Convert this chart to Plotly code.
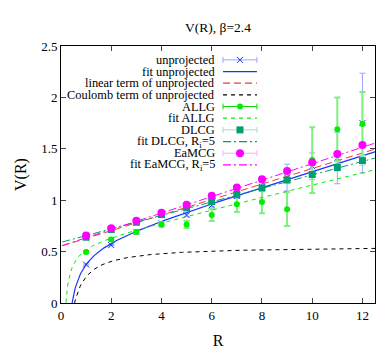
import numpy as np
import plotly.graph_objects as go

# lattice distances and measured potentials
R = [1, 2, 3, 4, 5, 6, 7, 8, 9, 10, 11, 12]

unproj_V = [0.374, 0.563, 0.69, 0.776, 0.855, 0.95, 1.04, 1.13, 1.22, 1.33, 1.41, 1.75]
unproj_err = [0.005, 0.006, 0.008, 0.01, 0.012, 0.015, 0.02, 0.04, 0.13, 0.13, 0.25, 0.485]

allg_V = [0.496, 0.618, 0.691, 0.764, 0.764, 0.856, 0.96, 0.983, 0.913, 1.39, 1.69, 1.742]
allg_err = [0.012, 0.015, 0.018, 0.022, 0.035, 0.058, 0.075, 0.11, 0.165, 0.32, 0.31, 0.31]

dlcg_V = [0.64, 0.715, 0.785, 0.86, 0.925, 0.987, 1.056, 1.12, 1.196, 1.25, 1.318, 1.385]
dlcg_err = [0.004, 0.005, 0.006, 0.008, 0.01, 0.012, 0.015, 0.018, 0.022, 0.028, 0.035, 0.045]

eamcg_V = [0.657, 0.728, 0.80, 0.877, 0.955, 1.044, 1.123, 1.203, 1.283, 1.367, 1.449, 1.537]
eamcg_err = [0.003, 0.004, 0.005, 0.006, 0.007, 0.008, 0.01, 0.012, 0.014, 0.016, 0.018, 0.02]

# fit parameters: V0, sigma, alpha  (V = V0 + sigma*R - alpha/R)
fit_unproj = [0.56, 0.0745, 0.26]
linear_unproj = [0.553, 0.0755, 0.0]
coulomb_unproj = [0.555, 0.0, 0.30]
fit_allg = [0.568, 0.059, 0.11]
fit_dlcg = [0.59, 0.0656, 0.0]
fit_eamcg = [0.555, 0.08, 0.0]

xticks = [0, 2, 4, 6, 8, 10, 12]
yticks = [0, 0.5, 1, 1.5, 2, 2.5]
ytick_labels = ["0", "0.5", "1", "1.5", "2", "2.5"]

FONT = "Liberation Serif"
BLUE, RED, GREEN, TEAL, MAG = "#1a33ff", "#e8402a", "#00ee00", "#009e73", "#ff00ff"

r_grid = np.linspace(0.05, 12.5, 300)


def model(p):
    v0, s, a = p
    return v0 + s * r_grid - a / r_grid


def points(vals, errs, color, errcolor, symbol, size, ew=1):
    return go.Scatter(x=R, y=vals, mode="markers",
                      marker=dict(symbol=symbol, size=size, color=color,
                                  line=dict(width=1 if symbol == "x-thin" else 0, color=color)),
                      error_y=dict(type="data", array=errs, color=errcolor, thickness=ew, width=3),
                      showlegend=False)


def curve(p, color, dash, width=1):
    return go.Scatter(x=r_grid, y=model(p), mode="lines",
                      line=dict(color=color, dash=dash, width=width), showlegend=False)


fig = go.Figure()
fig.add_trace(points(unproj_V, unproj_err, BLUE, "#9aa6ff", "x-thin", 6))
fig.add_trace(curve(fit_unproj, BLUE, "solid", 1.2))
fig.add_trace(curve(linear_unproj, RED, "7px,4px"))
fig.add_trace(curve(coulomb_unproj, "black", "4px,4px"))
fig.add_trace(points(allg_V, allg_err, GREEN, "#7ef07e", "circle", 6, 2))
fig.add_trace(curve(fit_allg, GREEN, "4px,4px"))
fig.add_trace(points(dlcg_V, dlcg_err, TEAL, "#a8dcc8", "square", 7))
fig.add_trace(curve(fit_dlcg, TEAL, "8px,3px,2px,3px"))
fig.add_trace(points(eamcg_V, eamcg_err, MAG, "#ffaaff", "circle", 8))
fig.add_trace(curve(fit_eamcg, MAG, "8px,3px,2px,3px"))

# gnuplot style key: labels right aligned, samples to their right
key = [
    ("unprojected", "pts", BLUE, "#9aa6ff", "x-thin", 6, None),
    ("fit unprojected", "line", BLUE, None, None, None, "solid"),
    ("linear term of unprojected", "line", RED, None, None, None, "7px,4px"),
    ("Coulomb term of unprojected", "line", "black", None, None, None, "4px,4px"),
    ("ALLG", "pts", GREEN, "#00dd00", "circle", 6, None),
    ("fit ALLG", "line", GREEN, None, None, None, "4px,4px"),
    ("DLCG", "pts", TEAL, "#a8dcc8", "square", 7, None),
    ("fit DLCG, R<sub>i</sub>=5", "line", TEAL, None, None, None, "8px,3px,2px,3px"),
    ("EaMCG", "pts", MAG, "#ffaaff", "circle", 8, None),
    ("fit EaMCG, R<sub>i</sub>=5", "line", MAG, None, None, None, "8px,3px,2px,3px"),
]
x0, x1 = 0.516, 0.624
for i, (label, kind, col, ecol, sym, size, dash) in enumerate(key):
    yk = 0.946 - i * 0.0454
    fig.add_annotation(x=0.493, y=yk, xref="paper", yref="paper", text=label,
                       showarrow=False, xanchor="right", yanchor="middle", borderpad=0,
                       font=dict(family=FONT, size=12.4, color="black"))
    if kind == "line":
        fig.add_trace(go.Scatter(x=[x0, x1], y=[yk, yk], xaxis="x2", yaxis="y2", mode="lines",
                                 line=dict(color=col, dash=dash, width=1.2), showlegend=False))
    else:
        fig.add_trace(go.Scatter(x=[(x0 + x1) / 2], y=[yk], xaxis="x2", yaxis="y2", mode="markers",
                                 marker=dict(symbol=sym, size=size, color=col,
                                             line=dict(width=1 if sym == "x-thin" else 0, color=col)),
                                 error_x=dict(type="constant", value=(x1 - x0) / 2, color=ecol,
                                              thickness=1, width=3),
                                 showlegend=False))

fig.update_layout(
    width=390, height=351,
    margin=dict(l=53, r=23, t=38, b=40),
    paper_bgcolor="white", plot_bgcolor="white",
    font=dict(family=FONT, size=13, color="black"),
    title=dict(text="V(R), β=2.4", x=0.5, xref="paper", y=0.945, yanchor="middle",
               font=dict(family=FONT, size=13.5)),
    xaxis=dict(range=[0, 12.5], tickvals=xticks, ticks="inside", ticklen=5, mirror="ticks",
               showline=True, linecolor="black", linewidth=1, showgrid=False, zeroline=False,
               title=dict(text="R", standoff=13)),
    yaxis=dict(range=[0, 2.5], tickvals=yticks, ticktext=ytick_labels, ticks="inside", ticklen=5,
               mirror="ticks", showline=True, linecolor="black", linewidth=1, showgrid=False,
               zeroline=False, title=dict(text="V(R)", standoff=10)),
    xaxis2=dict(overlaying="x", range=[0, 1], visible=False),
    yaxis2=dict(overlaying="y", range=[0, 1], visible=False),
)

fig.write_html("out.html")
